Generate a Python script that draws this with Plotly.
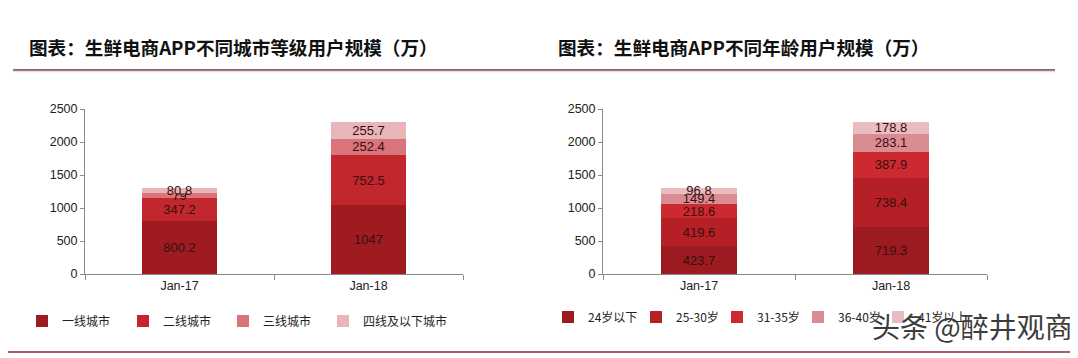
import plotly.graph_objects as go

W, H = 1078, 358
OFF = 8  # page body margin in the browser

categories = ["Jan-17", "Jan-18"]

# Left chart: by city tier
city_names = ["一线城市", "二线城市", "三线城市", "四线及以下城市"]
city_tier1 = [800.2, 1047]
city_tier2 = [347.2, 752.5]
city_tier3 = [79, 252.4]
city_tier4 = [80.8, 255.7]
city_series = [city_tier1, city_tier2, city_tier3, city_tier4]
city_colors = ["#9e1c20", "#c1272d", "#d8747a", "#e8b5b9"]
city_legend_x = [62, 163, 263, 363]   # text start of each legend entry (px)

# Right chart: by age
age_names = ["24岁以下", "25-30岁", "31-35岁", "36-40岁", "41岁以上"]
age_u24 = [423.7, 719.3]
age_25_30 = [419.6, 738.4]
age_31_35 = [218.6, 387.9]
age_36_40 = [149.4, 283.1]
age_41p = [96.8, 178.8]
age_series = [age_u24, age_25_30, age_31_35, age_36_40, age_41p]
age_colors = ["#9b1b20", "#b42025", "#cc2a30", "#d98d93", "#e8bcc0"]
age_legend_x = [588, 676, 757, 838, 918]

y_ticks = [0, 500, 1000, 1500, 2000, 2500]

def px_x(p):
    return (p - OFF) / W

def px_y(p):
    return 1 - (p - OFF) / H

fig = go.Figure()
legend_layouts = {}
leg_idx = 0

def legend_key(i):
    return "legend" if i == 0 else f"legend{i + 1}"

def add_series(names, series, colors, lx, ly, xa, ya):
    global leg_idx
    for name, vals, col, tx in zip(names, series, colors, lx):
        key = legend_key(leg_idx)
        fig.add_trace(go.Bar(
            x=categories, y=vals, name=name, marker=dict(color=col, line=dict(width=0)),
            text=[str(v) for v in vals], textposition="inside", insidetextanchor="middle",
            constraintext="none", textangle=0,
            textfont=dict(color="#3a0d0f", size=13, family="Liberation Sans, Arial"),
            xaxis=xa, yaxis=ya, legend=key,
        ))
        legend_layouts[key] = dict(
            orientation="h", x=px_x(tx - 40), y=px_y(ly), yanchor="middle", xanchor="left",
            itemwidth=30, font=dict(family="Noto Sans CJK SC", size=12, color="#222"),
            bgcolor="rgba(0,0,0,0)")
        leg_idx += 1

add_series(city_names, city_series, city_colors, city_legend_x, 321, "x", "y")
add_series(age_names, age_series, age_colors, age_legend_x, 317, "x2", "y2")

ydom = [px_y(274), px_y(109)]
axis_common = dict(showline=True, linecolor="#8a8a8a", linewidth=1, showgrid=False,
                   zeroline=False, tickfont=dict(family="Liberation Sans, Arial", size=12.5, color="#222"))

fig.update_layout(
    width=W, height=H,
    margin=dict(l=0, r=0, t=0, b=0, autoexpand=False),
    paper_bgcolor="white", plot_bgcolor="white",
    barmode="stack", bargap=0.6,
    uniformtext=dict(minsize=13, mode="show"),
    xaxis=dict(domain=[px_x(85), px_x(463)], anchor="y", ticks="outside", tickson="boundaries",
               ticklen=5, tickcolor="#8a8a8a", **axis_common),
    yaxis=dict(domain=ydom, anchor="x", range=[0, 2500], tickvals=y_ticks, ticks="outside",
               ticklen=4, tickcolor="#8a8a8a", **axis_common),
    xaxis2=dict(domain=[px_x(603), px_x(987)], anchor="y2", ticks="outside", tickson="boundaries",
                ticklen=5, tickcolor="#8a8a8a", **axis_common),
    yaxis2=dict(domain=ydom, anchor="x2", range=[0, 2500], tickvals=y_ticks, ticks="outside",
                ticklen=4, tickcolor="#8a8a8a", **axis_common),
    showlegend=True,
    **legend_layouts,
)

annotations = [
    dict(text="<b>图表：生鲜电商APP不同城市等级用户规模（万）</b>", x=px_x(27), y=px_y(47),
         xref="paper", yref="paper", xanchor="left", yanchor="middle", showarrow=False,
         font=dict(family="Noto Sans CJK SC", size=18.6, color="#111")),
    dict(text="<b>图表：生鲜电商APP不同年龄用户规模（万）</b>", x=px_x(556), y=px_y(47),
         xref="paper", yref="paper", xanchor="left", yanchor="middle", showarrow=False,
         font=dict(family="Noto Sans CJK SC", size=18.6, color="#111")),
    dict(text="头条 @醉井观商", x=px_x(1075), y=px_y(326),
         xref="paper", yref="paper", xanchor="right", yanchor="middle", showarrow=False,
         font=dict(family="Noto Sans CJK SC", size=28, color="#3c3c3c")),
]
fig.update_layout(annotations=annotations)

shapes = [
    dict(type="line", xref="paper", yref="paper", x0=px_x(13), x1=px_x(1055), y0=px_y(70), y1=px_y(70),
         line=dict(color="#5a3538", width=1.5)),
    dict(type="line", xref="paper", yref="paper", x0=px_x(13), x1=px_x(1055), y0=px_y(71.5), y1=px_y(71.5),
         line=dict(color="#f3d6d8", width=1.5)),
    dict(type="line", xref="paper", yref="paper", x0=px_x(7), x1=px_x(1072), y0=px_y(352), y1=px_y(352),
         line=dict(color="#8b2a35", width=1.5)),
]
fig.update_layout(shapes=shapes)

fig.write_html("out.html")
